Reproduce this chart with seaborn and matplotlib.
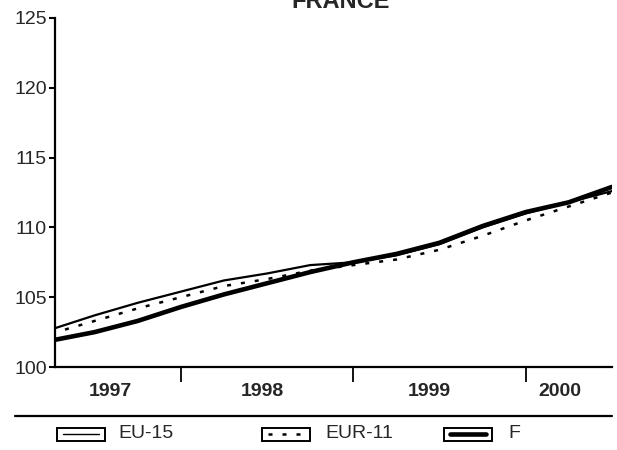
import matplotlib
matplotlib.use("Agg")
import matplotlib.pyplot as plt
import seaborn as sns
import pandas as pd
from matplotlib.lines import Line2D
from matplotlib.patches import Rectangle
from matplotlib.transforms import blended_transform_factory

# ---- data (quarterly readings, index) ----
periods = [1997.25, 1997.5, 1997.75, 1998.0, 1998.25, 1998.5, 1998.75,
           1999.0, 1999.25, 1999.5, 1999.75, 2000.0, 2000.25, 2000.5]
eu15 = [102.7, 103.7, 104.6, 105.4, 106.2, 106.7, 107.3,
        107.5, 108.0, 108.8, 110.0, 111.0, 111.8, 112.6]
eur11 = [102.4, 103.3, 104.2, 105.0, 105.8, 106.3, 106.9,
         107.3, 107.7, 108.4, 109.4, 110.5, 111.5, 112.5]
france = [101.9, 102.5, 103.3, 104.3, 105.2, 106.0, 106.8,
          107.5, 108.1, 108.9, 110.1, 111.1, 111.8, 112.9]
series_names = ["EU-15", "EUR-11", "F"]
year_labels = ["1997", "1998", "1999", "2000"]
year_label_pos = [1997.59, 1998.47, 1999.44, 2000.2]
year_bounds = [1998, 1999, 2000]
yticks = [100, 105, 110, 115, 120, 125]

df = pd.DataFrame({
    "period": periods * 3,
    "value": eu15 + eur11 + france,
    "series": [series_names[0]] * len(periods) + [series_names[1]] * len(periods)
              + [series_names[2]] * len(periods),
})

sns.set_style("ticks")
plt.rcParams["font.family"] = ["Liberation Sans", "DejaVu Sans"]

W, H = 617, 450
fig = plt.figure(figsize=(W / 100, H / 100), dpi=100)
ax = fig.add_axes([55 / W, 1 - 367 / H, (612 - 55) / W, (367 - 18) / H])

styles = {
    "EU-15": dict(lw=1.6, ls="-"),
    "EUR-11": dict(lw=1.8, ls=(0, (1.6, 4))),
    "F": dict(lw=3.3, ls="-"),
}
for name in series_names:
    sub = df[df["series"] == name]
    sns.lineplot(data=sub, x="period", y="value", ax=ax, color="black",
                 linewidth=styles[name]["lw"], linestyle=styles[name]["ls"],
                 legend=False, zorder=3 if name == "F" else 2)

ax.set_xlim(1997.27, 2000.5)
ax.set_ylim(100, 125)
ax.set_yticks(yticks)
ax.set_yticklabels([str(t) for t in yticks], fontsize=14)
ax.set_xticks(year_bounds)
ax.set_xticklabels([])
ax.tick_params(axis="x", direction="out", length=10.5, width=1.3, color="black")
ax.tick_params(axis="y", direction="out", length=4, width=1.5, pad=2, color="black")
ax.set_xlabel("")
ax.set_ylabel("")
for s in ["top", "right"]:
    ax.spines[s].set_visible(False)
for s in ["left", "bottom"]:
    ax.spines[s].set_linewidth(1.6)
    ax.spines[s].set_color("black")

# year labels
trans = blended_transform_factory(ax.transData, fig.transFigure)
for lab, pos in zip(year_labels, year_label_pos):
    ax.text(pos, 1 - 392 / H, lab, transform=trans, ha="center", va="center",
            fontsize=14, fontweight="bold", clip_on=False)

# title (partially cut off at top, as in the reference)
fig.text(341 / W, 1 - 8 / H, "FRANCE", ha="center", va="baseline",
         fontsize=17, fontweight="bold")

# separator line
fig.add_artist(Line2D([15 / W, 612 / W], [1 - 416 / H, 1 - 416 / H],
                      transform=fig.transFigure, color="black", lw=1.6))

# legend
box_w, box_h = 48, 13
legend_items = [(57, 118), (262, 325), (444, 508)]
ycen = 434
for name, (bx, tx) in zip(series_names, legend_items):
    fig.add_artist(Rectangle((bx / W, 1 - (ycen + box_h / 2) / H), box_w / W, box_h / H,
                             transform=fig.transFigure, fill=False,
                             edgecolor="black", lw=1.4))
    fig.add_artist(Line2D([(bx + 6) / W, (bx + box_w - 6) / W], [1 - ycen / H] * 2,
                          transform=fig.transFigure, color="black",
                          lw=styles[name]["lw"] if name != "EU-15" else 1.0,
                          ls=styles[name]["ls"]))
    fig.text(tx / W, 1 - ycen / H, name, ha="left", va="center", fontsize=14)

fig.savefig("out.png", dpi=100)
